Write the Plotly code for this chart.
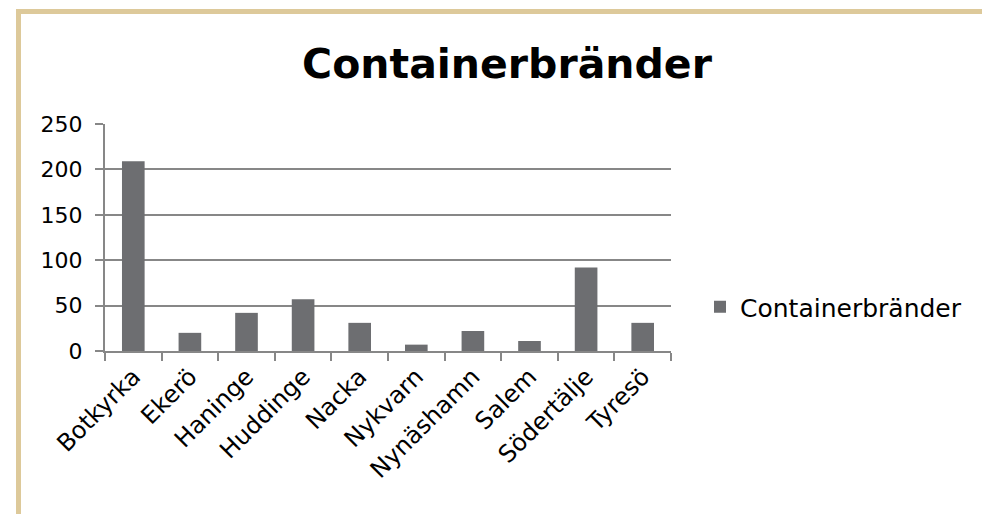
import plotly.graph_objects as go

categories = ["Botkyrka", "Ekerö", "Haninge", "Huddinge", "Nacka", "Nykvarn",
              "Nynäshamn", "Salem", "Södertälje", "Tyresö"]
values = [209, 20, 42, 57, 31, 7, 22, 11, 92, 31]
series_name = "Containerbränder"
title_text = "Containerbränder"
y_ticks = [0, 50, 100, 150, 200, 250]

W, H = 982, 514
L, R, T, B = 105, 311, 124, 163
pw = W - L - R
ph = H - T - B

def px(x):
    return (x - L) / pw

def py(y):
    return (H - B - y) / ph

bar_color = "#6D6E71"
grid_color = "#878787"
frame_color = "#DDC99A"
font_family = "DejaVu Sans"

fig = go.Figure()
fig.add_trace(go.Bar(x=categories, y=values, name=series_name,
                     marker=dict(color=bar_color, line=dict(width=0)),
                     showlegend=True))

fig.update_layout(
    width=W, height=H,
    margin=dict(l=L, r=R, t=T, b=B, autoexpand=False),
    paper_bgcolor="white", plot_bgcolor="white",
    bargap=0.6,
    title=dict(text="<b>" + title_text + "</b>", x=507 / W, xanchor="center",
               y=1 - 64 / H, yanchor="middle",
               font=dict(family=font_family, size=41, color="black")),
    font=dict(family=font_family, color="black"),
    showlegend=True,
    legend=dict(x=px(700), xanchor="left", y=py(307), yanchor="middle",
                font=dict(family=font_family, size=25, color="black"),
                bgcolor="rgba(0,0,0,0)", itemwidth=30),
    xaxis=dict(showgrid=False, showline=True, linecolor=grid_color, linewidth=2,
               ticks="outside", ticklen=8, tickcolor=grid_color, tickwidth=2,
               tickson="boundaries", tickangle=-45,
               tickfont=dict(family=font_family, size=24, color="black")),
    yaxis=dict(range=[0, 250], tickvals=y_ticks, showgrid=True, gridcolor=grid_color,
               gridwidth=2, showline=True, linecolor=grid_color, linewidth=2,
               ticks="outside", ticklen=8, tickcolor=grid_color, tickwidth=2,
               zeroline=False, ticklabelstandoff=8,
               tickfont=dict(family=font_family, size=22, color="black")),
    shapes=[
        dict(type="line", xref="paper", yref="paper",
             x0=px(18.5), x1=px(18.5), y0=py(9), y1=py(514), line=dict(color=frame_color, width=5)),
        dict(type="line", xref="paper", yref="paper",
             x0=px(16), x1=px(982), y0=py(11.5), y1=py(11.5), line=dict(color=frame_color, width=5)),
    ],
)

fig.write_html("out.html", config={"displayModeBar": False},
               post_script="document.body.style.margin='0';document.body.style.padding='0';")
